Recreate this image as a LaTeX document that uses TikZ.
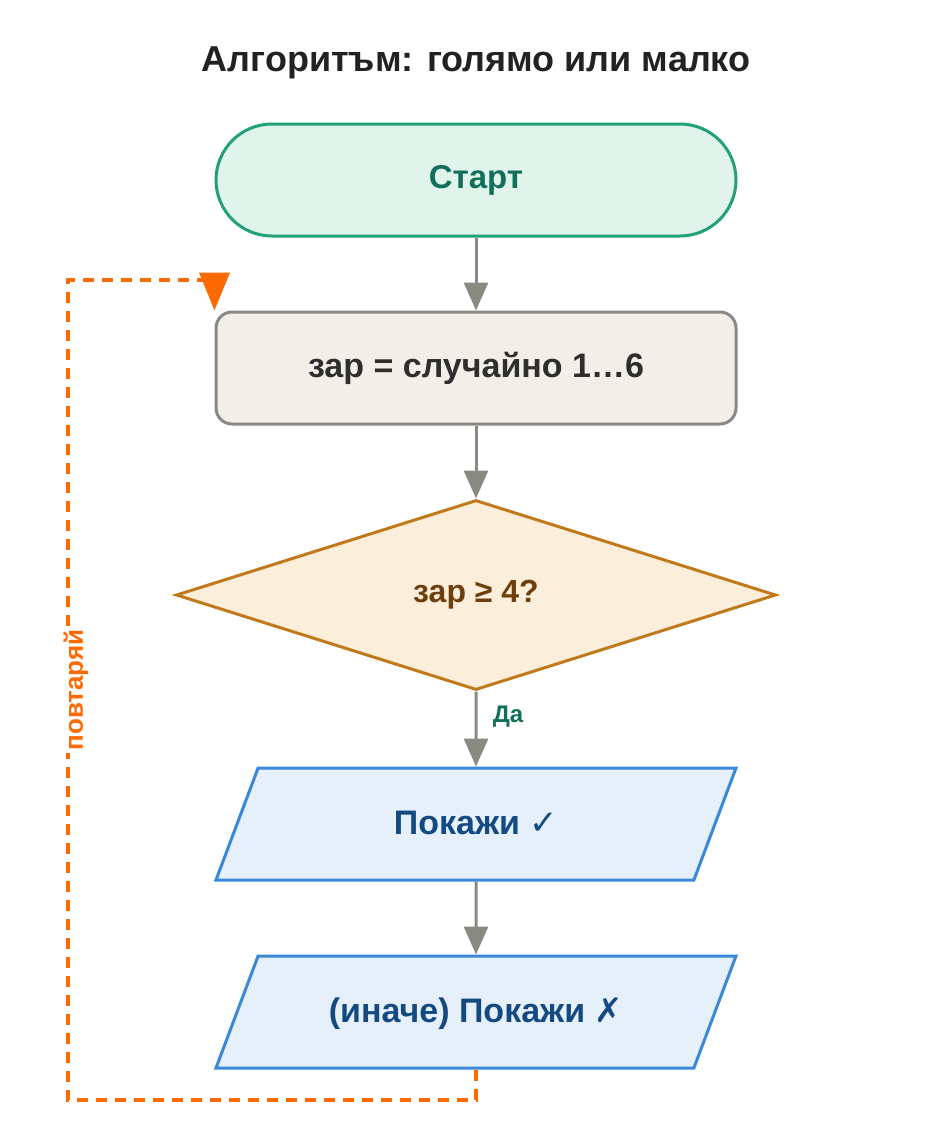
\documentclass[tikz,border=0pt]{standalone}
\usepackage{fontspec}
\setmainfont{Liberation Sans}
\newfontfamily\symfont{DejaVu Sans}
\usetikzlibrary{positioning, shapes.geometric, arrows.meta}

\definecolor{titlec}{HTML}{222222}
\definecolor{startfill}{HTML}{E0F4EC}
\definecolor{startdraw}{HTML}{22A07A}
\definecolor{starttext}{HTML}{12705A}
\definecolor{procfill}{HTML}{F2EFE8}
\definecolor{procdraw}{HTML}{8A8882}
\definecolor{proctext}{HTML}{2E2E2E}
\definecolor{decfill}{HTML}{FBEEDB}
\definecolor{decdraw}{HTML}{C07A1C}
\definecolor{dectext}{HTML}{6E3F0C}
\definecolor{iofill}{HTML}{E6F0FA}
\definecolor{iodraw}{HTML}{3A88DA}
\definecolor{iotext}{HTML}{144A82}
\definecolor{flowc}{HTML}{8A8A82}
\definecolor{loopc}{HTML}{FF6A00}

\tikzset{
	startbox/.style={rectangle, rounded corners=56pt, draw=startdraw, fill=startfill, text=starttext, line width=3pt, minimum width=520pt, minimum height=112pt, font=\bfseries\fontsize{33}{40}\selectfont},
	procbox/.style={rectangle, rounded corners=16pt, draw=procdraw, fill=procfill, text=proctext, line width=3pt, minimum width=520pt, minimum height=112pt, font=\bfseries\fontsize{34}{40}\selectfont},
	decbox/.style={diamond, draw=decdraw, fill=decfill, text=dectext, line width=3pt, inner sep=0pt, minimum width=600pt, minimum height=190pt, font=\bfseries\fontsize{32}{38}\selectfont},
	iobox/.style={trapezium, trapezium left angle=69.4, trapezium right angle=110.6, trapezium stretches body=true, draw=iodraw, fill=iofill, text=iotext, line width=3pt, text height=26pt, text depth=6pt, inner ysep=40pt, minimum width=520pt, minimum height=112pt, font=\bfseries\fontsize{34}{40}\selectfont},
	flow/.style={-{Triangle[width=24pt, length=28pt]}, draw=flowc, line width=3pt},
	loopline/.style={-{Triangle[width=30pt, length=38pt]}, draw=loopc, line width=4pt, dash pattern=on 11pt off 8pt},
}

\begin{document}
\begin{tikzpicture}[x=1pt, y=1pt, node distance=73pt]
	\useasboundingbox (0,0) rectangle (952,-1132);
	\node[text=titlec, font=\bfseries\fontsize{36}{42}\selectfont] (title) at (476,-63) {Алгоритъм: голямо или малко};
	\node[startbox] (start) at (476,-180) {Старт};
	\node[procbox, below=of start] (rand) {зар = случайно 1…6};
	\node[decbox, below=of rand] (check) {зар ≥ 4?};
	\node[iobox, below=75pt of check] (yes) {Покажи {\symfont ✓}};
	\node[iobox, below=of yes] (no) {(иначе) Покажи {\symfont ✗}};

	\draw[flow] (start) -- (rand);
	\draw[flow] (rand) -- (check);
	\draw[flow] (check) -- node[pos=0.33, right=12pt, text=starttext, font=\bfseries\fontsize{24}{28}\selectfont] (yeslbl) {Да} (yes);
	\draw[flow] (yes) -- (no);

	% loop back
	\coordinate[below=30pt of no.south] (l1);
	\coordinate (l3) at (68,-280);
	\coordinate (l2) at (l1 -| l3);
	\coordinate (l4) at (l3 -| rand.north west);
	\draw[loopline] (no.south) -- (l1) -- (l2) -- (l3) -- (l4) -- (rand.north west);
	\node[rotate=90, fill=white, inner sep=2pt, text=loopc, font=\bfseries\fontsize{26}{30}\selectfont] (rep) at (76,-690) {повтаряй};
\end{tikzpicture}
\end{document}
